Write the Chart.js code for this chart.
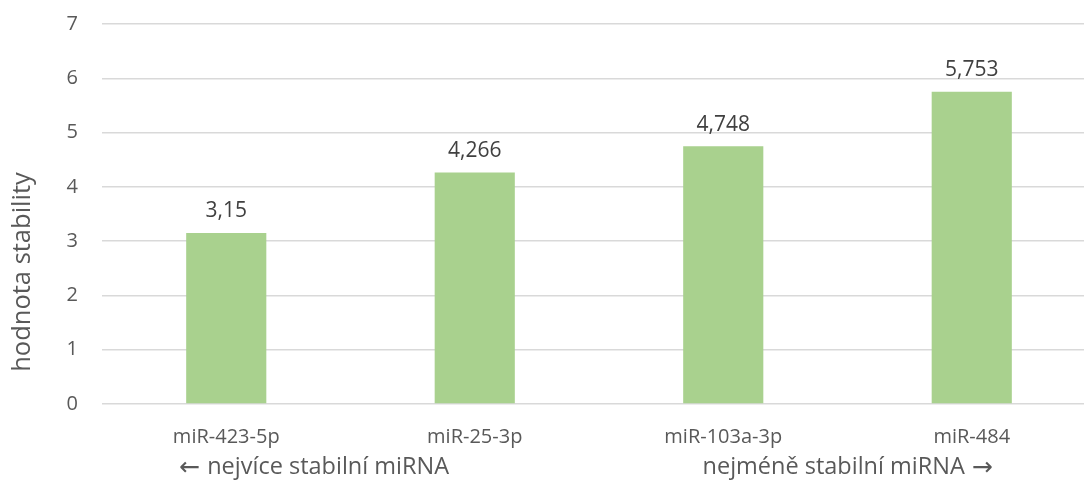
<!DOCTYPE html>
<html>
<head>
<meta charset="utf-8">
<script src="https://cdn.jsdelivr.net/npm/chart.js@4/dist/chart.umd.min.js"></script>
<style>
  html, body { margin: 0; padding: 0; background: #fff; overflow: hidden; }
  #wrap { position: relative; width: 1096px; height: 481px; }
</style>
</head>
<body>
<div id="wrap"><canvas id="c"></canvas></div>
<script>
// Stability values of candidate reference miRNAs
const categories = ['miR-423-5p', 'miR-25-3p', 'miR-103a-3p', 'miR-484'];
const stabilityValues = [3.15, 4.266, 4.748, 5.753];
const yTicks = [0, 1, 2, 3, 4, 5, 6, 7];
const yAxisTitle = 'hodnota stability';
const leftNote = 'nejvíce stabilní miRNA';
const rightNote = 'nejméně stabilní miRNA';
const leftArrow = '\u2190';
const rightArrow = '\u2192';

const FONT = '"Open Sans", "Noto Sans", sans-serif';
const ARROW_FONT = '"DejaVu Sans", sans-serif';
const fmt = v => String(v).replace('.', ',');

// Value labels above bars, axis title and the direction notes under the axis
const annotations = {
  id: 'annotations',
  afterDatasetsDraw(chart) {
    const ctx = chart.ctx;
    const meta = chart.getDatasetMeta(0);
    ctx.save();
    ctx.fillStyle = '#404040';
    ctx.font = '21px ' + FONT;
    ctx.textAlign = 'center';
    ctx.textBaseline = 'bottom';
    meta.data.forEach((bar, i) => {
      ctx.fillText(fmt(stabilityValues[i]), bar.x, bar.y - 11);
    });
    ctx.restore();
  },
  afterDraw(chart) {
    const ctx = chart.ctx;
    const x = chart.scales.x;
    ctx.save();
    ctx.fillStyle = '#595959';
    // rotated y-axis title
    ctx.font = '25.5px ' + FONT;
    ctx.translate(23, 272);
    ctx.rotate(-Math.PI / 2);
    ctx.textAlign = 'center';
    ctx.textBaseline = 'middle';
    ctx.fillText(yAxisTitle, 0, 0);
    ctx.restore();

    // direction notes with arrows
    ctx.save();
    ctx.fillStyle = '#595959';
    ctx.textBaseline = 'middle';
    const y = 467;
    const gap = 7;
    let lx = x.getPixelForValue(0) - 47;
    ctx.textAlign = 'left';
    ctx.font = '25px ' + ARROW_FONT;
    ctx.fillText(leftArrow, lx, y + 1);
    lx += ctx.measureText(leftArrow).width + gap;
    ctx.font = '23.5px ' + FONT;
    ctx.fillText(leftNote, lx, y);

    let rx = x.getPixelForValue(categories.length - 1) + 21;
    ctx.textAlign = 'right';
    ctx.font = '25px ' + ARROW_FONT;
    ctx.fillText(rightArrow, rx, y + 1);
    rx -= ctx.measureText(rightArrow).width + gap;
    ctx.font = '23.5px ' + FONT;
    ctx.fillText(rightNote, rx, y);
    ctx.restore();
  }
};

new Chart(document.getElementById('c'), {
  type: 'bar',
  data: {
    labels: categories,
    datasets: [{
      data: stabilityValues,
      backgroundColor: '#a9d18e',
      borderWidth: 0,
      barPercentage: 0.645,
      categoryPercentage: 0.5
    }]
  },
  options: {
    responsive: true,
    maintainAspectRatio: false,
    animation: false,
    layout: { padding: { top: 24, right: 0, bottom: 0, left: 0 } },
    plugins: {
      legend: { display: false },
      tooltip: { enabled: false }
    },
    scales: {
      x: {
        grid: { display: false, drawTicks: false },
        border: { display: false },
        ticks: {
          color: '#595959',
          font: { family: FONT, size: 20 },
          padding: 21,
          maxRotation: 0
        },
        afterFit(scale) {
          scale.height = 77;
          scale.paddingLeft = 0;
          scale.paddingRight = 0;
        }
      },
      y: {
        min: 0,
        max: 7,
        afterBuildTicks(scale) { scale.ticks = yTicks.map(v => ({ value: v })); },
        grid: { color: '#d9d9d9', lineWidth: 1.5, drawTicks: false },
        border: { display: false },
        ticks: {
          color: '#595959',
          font: { family: FONT, size: 20 },
          padding: 24
        },
        afterFit(scale) {
          scale.width = 102;
          scale.paddingTop = 0;
          scale.paddingBottom = 0;
        }
      }
    }
  },
  plugins: [annotations]
});
</script>
</body>
</html>
